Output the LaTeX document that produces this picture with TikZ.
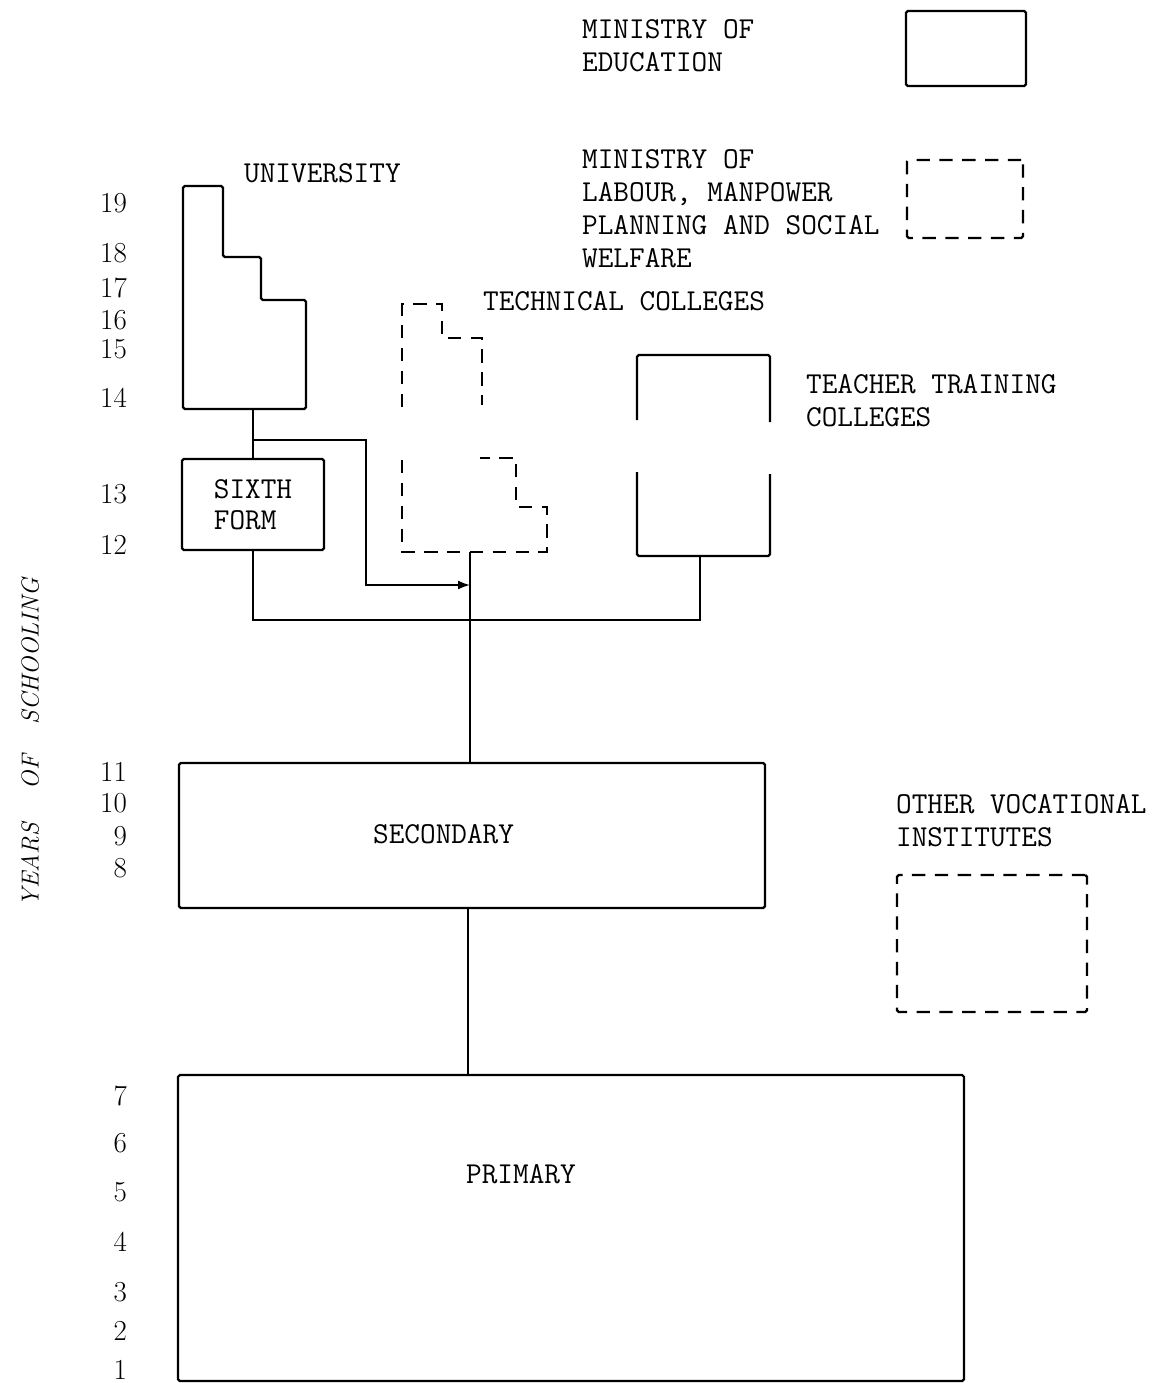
\documentclass[tikz,border=0pt]{standalone}
\usepackage{tikz}
\usetikzlibrary{arrows.meta}

\begin{document}
\begin{tikzpicture}[x=0.02cm,y=-0.02cm,line width=1.3pt,>={Latex[length=2.4mm,width=1.8mm]},
  caja/.style={draw,rounded corners=1pt,inner sep=0pt},
  discont/.style={dash pattern=on 7.6pt off 5.4pt},
  rotulo/.style={font=\ttfamily\fontsize{17.3}{18.8}\selectfont,align=left,inner sep=0pt,anchor=north west},
  anio/.style={font=\fontsize{16.5}{18}\selectfont,inner sep=0pt,anchor=east}]
  \useasboundingbox (0,0) rectangle (1166,1383);
  % leyenda
  \node[rotulo] (lmin1) at (581,18) {MINISTRY OF\\EDUCATION};
  \node[caja,minimum width=2.4cm,minimum height=1.5cm] (ley1) at (966,48.5) {};
  \node[rotulo] (lmin2) at (581,148) {MINISTRY OF\\LABOUR, MANPOWER\\PLANNING AND SOCIAL\\WELFARE};
  \node[caja,discont,minimum width=2.32cm,minimum height=1.56cm] (ley2) at (965,199) {};
  % eje de años
  \node[rotate=90,font=\itshape\fontsize{14}{16}\selectfont] (eje) at (30,742) {YEARS\hspace{0.68cm}OF\hspace{0.62cm}SCHOOLING};
  \foreach \n/\y in {19/203,18/253,17/288,16/320,15/349,14/398,13/494,12/545,11/772,10/803,9/836,8/868,7/1096,6/1143,5/1192,4/1242,3/1292,2/1331,1/1370}
    \node[anio] (y\n) at (128,\y) {\n};
  % universidad
  \node[rotulo] (luni) at (243,162) {UNIVERSITY};
  \draw[rounded corners=1pt] (183,186) -- (223,186) -- (223,257) -- (261,257) -- (261,300)
    -- (306,300) -- (306,409) -- (183,409) -- cycle;
  \coordinate (unibot) at (253,409);
  % escuelas tecnicas
  \node[rotulo] (ltec) at (482,290) {TECHNICAL COLLEGES};
  \draw[discont] (402,407) -- (402,304) -- (442,304) -- (442,338) -- (482,338) -- (482,405);
  \draw[discont] (402,460) -- (402,552) -- (547,552) -- (547,507) -- (516,507) -- (516,458) -- (480,458);
  \coordinate (tecbot) at (470,552);
  % formacion docente
  \node[rotulo] (ldoc) at (805,373) {TEACHER TRAINING\\COLLEGES};
  \draw[rounded corners=1pt] (637,420) -- (637,355) -- (770,355) -- (770,422);
  \draw[rounded corners=1pt] (637,472) -- (637,556) -- (770,556) -- (770,474);
  \coordinate (docbot) at (700,556);
  % sexto
  \node[caja,minimum width=2.84cm,minimum height=1.82cm,font=\ttfamily\fontsize{17.3}{17.6}\selectfont,align=left] (sexto) at (253,504.5) {SIXTH\\FORM};
  % secundaria y primaria
  \node[caja,minimum width=11.72cm,minimum height=2.9cm] (sec) at (472,835.5) {};
  \node[rotulo] at (372,823) {SECONDARY};
  \node[caja,minimum width=15.72cm,minimum height=6.12cm] (prim) at (571,1228) {};
  \node[rotulo] at (465,1163) {PRIMARY};
  % otros institutos
  \node[rotulo] (lotr) at (895,793) {OTHER VOCATIONAL\\INSTITUTES};
  \node[caja,discont,minimum width=3.8cm,minimum height=2.74cm] (otr) at (992,943.5) {};
  % conexiones
  \coordinate (fork) at (253,440);
  \coordinate (codo) at (366,585);
  \coordinate (flecha) at (470,585);
  \coordinate (union) at (470,620);
  \coordinate (primtop) at (468,1075);
  \draw (unibot) -- (sexto.north);
  \draw[->,line width=1pt] (fork) -| (codo) -- (flecha);
  \draw (sexto.south) |- (union) -| (docbot);
  \draw (tecbot) -- (tecbot |- sec.north);
  \draw (primtop |- sec.south) -- (primtop);
\end{tikzpicture}
\end{document}
